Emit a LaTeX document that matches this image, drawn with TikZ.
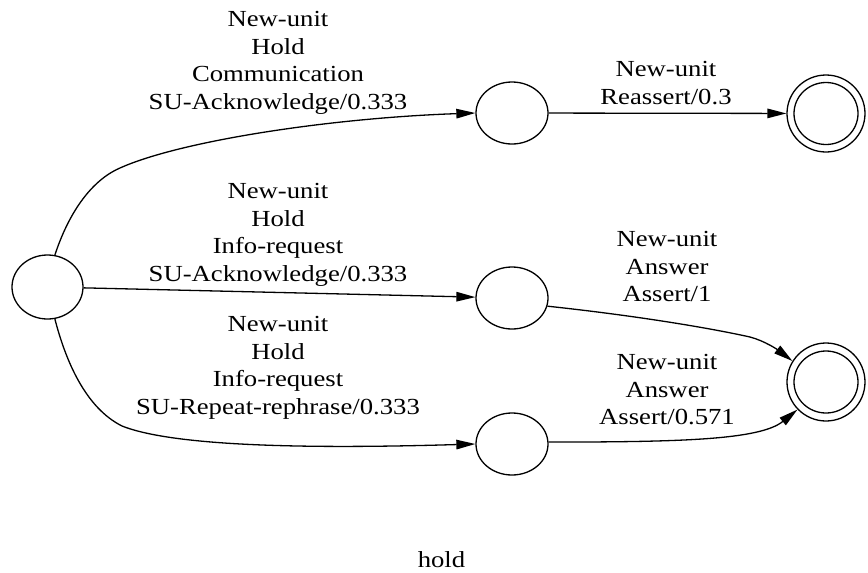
\documentclass[tikz,border=0pt]{standalone}
\usepackage{fontspec}
\setmainfont[FakeStretch=1.16]{Liberation Serif}
\usetikzlibrary{arrows.meta,shapes.geometric}
\tikzset{
  state/.style={draw, ellipse, line width=1.3pt, inner sep=0pt},
  lbl/.style={anchor=north, align=center, inner sep=0pt, font=\fontsize{23}{27.5}\selectfont},
  edge/.style={line width=1.3pt, -{Triangle[length=19pt,width=9.5pt]}}
}
\begin{document}
\begin{tikzpicture}[x=1pt,y=-1pt]
\useasboundingbox (0,0) rectangle (868,573);
% states
\node[state, minimum width=71pt, minimum height=64pt] (S0) at (47.5,287) {};
\node[state, minimum width=72pt, minimum height=62pt] (A) at (512,113) {};
\node[state, minimum width=72pt, minimum height=62pt] (B) at (512,298) {};
\node[state, minimum width=72pt, minimum height=62pt] (C) at (512,444) {};
\node[state, minimum width=78pt, minimum height=77pt] (F1) at (826,113.5) {};
\node[state, minimum width=64pt, minimum height=62pt] (F1i) at (826,113.5) {};
\node[state, minimum width=78pt, minimum height=78pt] (F2) at (826,382) {};
\node[state, minimum width=64pt, minimum height=62pt] (F2i) at (826,382) {};
% edges
\draw[edge] (S0.77) .. controls (68,215) and (90,181) .. (120,168)
  .. controls (180,141) and (330,118) .. (A.west);
\draw[edge] (S0) -- (B);
\draw[edge] (S0.-77) .. controls (66,362) and (86,408) .. (122,426)
  .. controls (180,449) and (340,448) .. (C.west);
\draw[edge] (A) -- (F1);
\draw[edge] (B.-13) .. controls (630,315) and (705,327) .. (750,337)
  .. controls (765,341) and (778,350) .. (F2.148);
\draw[edge] (C.3) .. controls (680,442) and (760,440) .. (F2.-136);
% labels
\node[lbl] (L1) at (278,11.3) {New-unit\\Hold\\Communication\\SU-Acknowledge/0.333};
\node[lbl] (L2) at (278,183.3) {New-unit\\Hold\\Info-request\\SU-Acknowledge/0.333};
\node[lbl] (L3) at (278,316.3) {New-unit\\Hold\\Info-request\\SU-Repeat-rephrase/0.333};
\node[lbl] (L4) at (666,61.3) {New-unit\\Reassert/0.3};
\node[lbl] (L5) at (667,231.3) {New-unit\\Answer\\Assert/1};
\node[lbl] (L6) at (667,354.3) {New-unit\\Answer\\Assert/0.571};
\node[lbl] (T) at (441.5,551.3) {hold};
\end{tikzpicture}
\end{document}
